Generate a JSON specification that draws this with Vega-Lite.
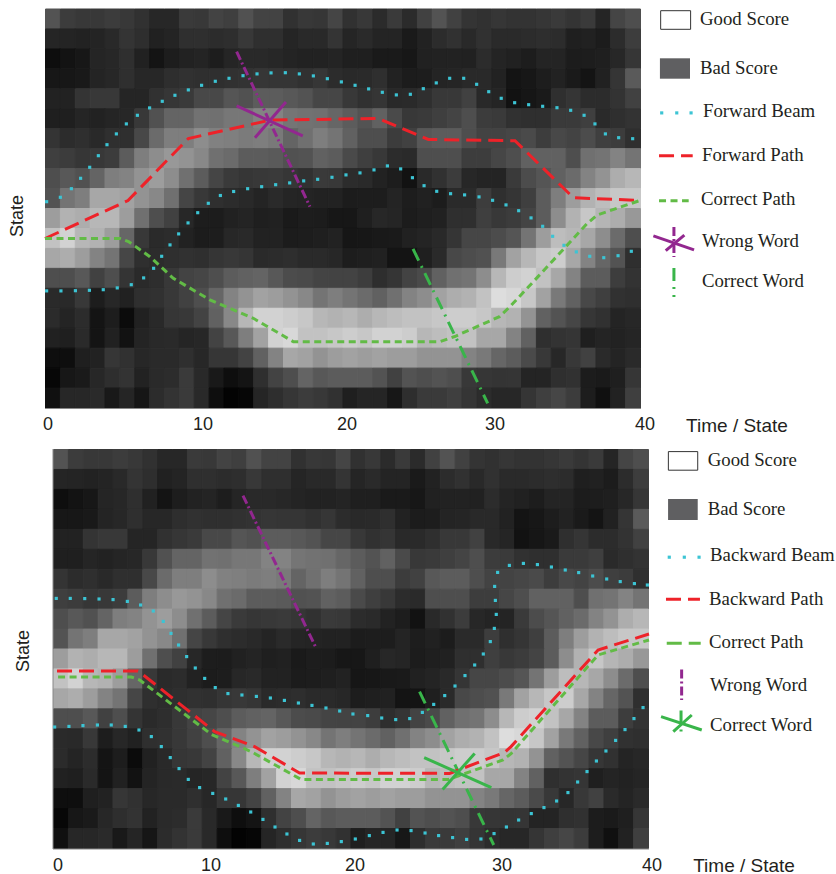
{"$schema":"https://vega.github.io/schema/vega-lite/v6.json","width":836,"height":874,"autosize":{"type":"none"},"padding":0,"background":"white","config":{"view":{"stroke":null}},
"datasets":{"heat":[
{"c":0,"r":0,"v":90},{"c":1,"r":0,"v":65},{"c":2,"r":0,"v":60},{"c":3,"r":0,"v":60},{"c":4,"r":0,"v":65},{"c":5,"r":0,"v":60},{"c":6,"r":0,"v":52},{"c":7,"r":0,"v":40},{"c":8,"r":0,"v":40},{"c":9,"r":0,"v":62},{"c":10,"r":0,"v":60},{"c":11,"r":0,"v":72},{"c":12,"r":0,"v":68},{"c":13,"r":0,"v":88},{"c":14,"r":0,"v":72},{"c":15,"r":0,"v":72},{"c":16,"r":0,"v":52},{"c":17,"r":0,"v":60},{"c":18,"r":0,"v":58},{"c":19,"r":0,"v":75},{"c":20,"r":0,"v":52},{"c":21,"r":0,"v":60},{"c":22,"r":0,"v":45},{"c":23,"r":0,"v":62},{"c":24,"r":0,"v":45},{"c":25,"r":0,"v":70},{"c":26,"r":0,"v":90},{"c":27,"r":0,"v":70},{"c":28,"r":0,"v":55},{"c":29,"r":0,"v":52},{"c":30,"r":0,"v":58},{"c":31,"r":0,"v":54},{"c":32,"r":0,"v":54},{"c":33,"r":0,"v":58},{"c":34,"r":0,"v":62},{"c":35,"r":0,"v":55},{"c":36,"r":0,"v":62},{"c":37,"r":0,"v":38},{"c":38,"r":0,"v":75},{"c":39,"r":0,"v":85},
{"c":0,"r":1,"v":38},{"c":1,"r":1,"v":36},{"c":2,"r":1,"v":34},{"c":3,"r":1,"v":36},{"c":4,"r":1,"v":42},{"c":5,"r":1,"v":55},{"c":6,"r":1,"v":48},{"c":7,"r":1,"v":32},{"c":8,"r":1,"v":36},{"c":9,"r":1,"v":50},{"c":10,"r":1,"v":50},{"c":11,"r":1,"v":46},{"c":12,"r":1,"v":48},{"c":13,"r":1,"v":60},{"c":14,"r":1,"v":50},{"c":15,"r":1,"v":50},{"c":16,"r":1,"v":38},{"c":17,"r":1,"v":42},{"c":18,"r":1,"v":42},{"c":19,"r":1,"v":55},{"c":20,"r":1,"v":38},{"c":21,"r":1,"v":44},{"c":22,"r":1,"v":36},{"c":23,"r":1,"v":36},{"c":24,"r":1,"v":24},{"c":25,"r":1,"v":34},{"c":26,"r":1,"v":46},{"c":27,"r":1,"v":52},{"c":28,"r":1,"v":42},{"c":29,"r":1,"v":52},{"c":30,"r":1,"v":44},{"c":31,"r":1,"v":44},{"c":32,"r":1,"v":46},{"c":33,"r":1,"v":48},{"c":34,"r":1,"v":46},{"c":35,"r":1,"v":30},{"c":36,"r":1,"v":32},{"c":37,"r":1,"v":26},{"c":38,"r":1,"v":46},{"c":39,"r":1,"v":66},
{"c":0,"r":2,"v":10},{"c":1,"r":2,"v":15},{"c":2,"r":2,"v":20},{"c":3,"r":2,"v":38},{"c":4,"r":2,"v":40},{"c":5,"r":2,"v":50},{"c":6,"r":2,"v":32},{"c":7,"r":2,"v":16},{"c":8,"r":2,"v":28},{"c":9,"r":2,"v":34},{"c":10,"r":2,"v":36},{"c":11,"r":2,"v":28},{"c":12,"r":2,"v":38},{"c":13,"r":2,"v":42},{"c":14,"r":2,"v":42},{"c":15,"r":2,"v":40},{"c":16,"r":2,"v":36},{"c":17,"r":2,"v":34},{"c":18,"r":2,"v":34},{"c":19,"r":2,"v":36},{"c":20,"r":2,"v":30},{"c":21,"r":2,"v":30},{"c":22,"r":2,"v":24},{"c":23,"r":2,"v":24},{"c":24,"r":2,"v":20},{"c":25,"r":2,"v":32},{"c":26,"r":2,"v":34},{"c":27,"r":2,"v":34},{"c":28,"r":2,"v":32},{"c":29,"r":2,"v":46},{"c":30,"r":2,"v":36},{"c":31,"r":2,"v":32},{"c":32,"r":2,"v":28},{"c":33,"r":2,"v":36},{"c":34,"r":2,"v":36},{"c":35,"r":2,"v":26},{"c":36,"r":2,"v":28},{"c":37,"r":2,"v":30},{"c":38,"r":2,"v":40},{"c":39,"r":2,"v":58},
{"c":0,"r":3,"v":20},{"c":1,"r":3,"v":20},{"c":2,"r":3,"v":22},{"c":3,"r":3,"v":36},{"c":4,"r":3,"v":40},{"c":5,"r":3,"v":50},{"c":6,"r":3,"v":40},{"c":7,"r":3,"v":40},{"c":8,"r":3,"v":48},{"c":9,"r":3,"v":52},{"c":10,"r":3,"v":50},{"c":11,"r":3,"v":50},{"c":12,"r":3,"v":52},{"c":13,"r":3,"v":54},{"c":14,"r":3,"v":58},{"c":15,"r":3,"v":56},{"c":16,"r":3,"v":56},{"c":17,"r":3,"v":52},{"c":18,"r":3,"v":58},{"c":19,"r":3,"v":46},{"c":20,"r":3,"v":42},{"c":21,"r":3,"v":44},{"c":22,"r":3,"v":50},{"c":23,"r":3,"v":34},{"c":24,"r":3,"v":26},{"c":25,"r":3,"v":28},{"c":26,"r":3,"v":36},{"c":27,"r":3,"v":38},{"c":28,"r":3,"v":42},{"c":29,"r":3,"v":42},{"c":30,"r":3,"v":34},{"c":31,"r":3,"v":16},{"c":32,"r":3,"v":20},{"c":33,"r":3,"v":28},{"c":34,"r":3,"v":34},{"c":35,"r":3,"v":24},{"c":36,"r":3,"v":16},{"c":37,"r":3,"v":32},{"c":38,"r":3,"v":56},{"c":39,"r":3,"v":98},
{"c":0,"r":4,"v":34},{"c":1,"r":4,"v":34},{"c":2,"r":4,"v":55},{"c":3,"r":4,"v":60},{"c":4,"r":4,"v":60},{"c":5,"r":4,"v":38},{"c":6,"r":4,"v":38},{"c":7,"r":4,"v":52},{"c":8,"r":4,"v":58},{"c":9,"r":4,"v":62},{"c":10,"r":4,"v":78},{"c":11,"r":4,"v":78},{"c":12,"r":4,"v":92},{"c":13,"r":4,"v":88},{"c":14,"r":4,"v":100},{"c":15,"r":4,"v":100},{"c":16,"r":4,"v":95},{"c":17,"r":4,"v":90},{"c":18,"r":4,"v":76},{"c":19,"r":4,"v":76},{"c":20,"r":4,"v":60},{"c":21,"r":4,"v":52},{"c":22,"r":4,"v":56},{"c":23,"r":4,"v":42},{"c":24,"r":4,"v":44},{"c":25,"r":4,"v":50},{"c":26,"r":4,"v":60},{"c":27,"r":4,"v":60},{"c":28,"r":4,"v":70},{"c":29,"r":4,"v":42},{"c":30,"r":4,"v":38},{"c":31,"r":4,"v":14},{"c":32,"r":4,"v":18},{"c":33,"r":4,"v":24},{"c":34,"r":4,"v":50},{"c":35,"r":4,"v":56},{"c":36,"r":4,"v":46},{"c":37,"r":4,"v":46},{"c":38,"r":4,"v":54},{"c":39,"r":4,"v":70},
{"c":0,"r":5,"v":30},{"c":1,"r":5,"v":30},{"c":2,"r":5,"v":38},{"c":3,"r":5,"v":34},{"c":4,"r":5,"v":38},{"c":5,"r":5,"v":40},{"c":6,"r":5,"v":60},{"c":7,"r":5,"v":88},{"c":8,"r":5,"v":108},{"c":9,"r":5,"v":108},{"c":10,"r":5,"v":122},{"c":11,"r":5,"v":120},{"c":12,"r":5,"v":128},{"c":13,"r":5,"v":128},{"c":14,"r":5,"v":140},{"c":15,"r":5,"v":140},{"c":16,"r":5,"v":126},{"c":17,"r":5,"v":122},{"c":18,"r":5,"v":120},{"c":19,"r":5,"v":110},{"c":20,"r":5,"v":100},{"c":21,"r":5,"v":90},{"c":22,"r":5,"v":105},{"c":23,"r":5,"v":80},{"c":24,"r":5,"v":60},{"c":25,"r":5,"v":62},{"c":26,"r":5,"v":68},{"c":27,"r":5,"v":74},{"c":28,"r":5,"v":85},{"c":29,"r":5,"v":65},{"c":30,"r":5,"v":62},{"c":31,"r":5,"v":52},{"c":32,"r":5,"v":50},{"c":33,"r":5,"v":50},{"c":34,"r":5,"v":62},{"c":35,"r":5,"v":62},{"c":36,"r":5,"v":68},{"c":37,"r":5,"v":44},{"c":38,"r":5,"v":50},{"c":39,"r":5,"v":54},
{"c":0,"r":6,"v":55},{"c":1,"r":6,"v":46},{"c":2,"r":6,"v":50},{"c":3,"r":6,"v":42},{"c":4,"r":6,"v":50},{"c":5,"r":6,"v":50},{"c":6,"r":6,"v":78},{"c":7,"r":6,"v":115},{"c":8,"r":6,"v":135},{"c":9,"r":6,"v":135},{"c":10,"r":6,"v":150},{"c":11,"r":6,"v":138},{"c":12,"r":6,"v":136},{"c":13,"r":6,"v":132},{"c":14,"r":6,"v":135},{"c":15,"r":6,"v":130},{"c":16,"r":6,"v":108},{"c":17,"r":6,"v":120},{"c":18,"r":6,"v":135},{"c":19,"r":6,"v":125},{"c":20,"r":6,"v":105},{"c":21,"r":6,"v":85},{"c":22,"r":6,"v":85},{"c":23,"r":6,"v":65},{"c":24,"r":6,"v":70},{"c":25,"r":6,"v":95},{"c":26,"r":6,"v":100},{"c":27,"r":6,"v":100},{"c":28,"r":6,"v":85},{"c":29,"r":6,"v":72},{"c":30,"r":6,"v":72},{"c":31,"r":6,"v":76},{"c":32,"r":6,"v":80},{"c":33,"r":6,"v":66},{"c":34,"r":6,"v":78},{"c":35,"r":6,"v":72},{"c":36,"r":6,"v":82},{"c":37,"r":6,"v":68},{"c":38,"r":6,"v":64},{"c":39,"r":6,"v":50},
{"c":0,"r":7,"v":68},{"c":1,"r":7,"v":65},{"c":2,"r":7,"v":58},{"c":3,"r":7,"v":60},{"c":4,"r":7,"v":65},{"c":5,"r":7,"v":100},{"c":6,"r":7,"v":135},{"c":7,"r":7,"v":150},{"c":8,"r":7,"v":160},{"c":9,"r":7,"v":155},{"c":10,"r":7,"v":145},{"c":11,"r":7,"v":120},{"c":12,"r":7,"v":115},{"c":13,"r":7,"v":100},{"c":14,"r":7,"v":100},{"c":15,"r":7,"v":98},{"c":16,"r":7,"v":88},{"c":17,"r":7,"v":90},{"c":18,"r":7,"v":105},{"c":19,"r":7,"v":100},{"c":20,"r":7,"v":80},{"c":21,"r":7,"v":68},{"c":22,"r":7,"v":60},{"c":23,"r":7,"v":46},{"c":24,"r":7,"v":44},{"c":25,"r":7,"v":85},{"c":26,"r":7,"v":85},{"c":27,"r":7,"v":85},{"c":28,"r":7,"v":66},{"c":29,"r":7,"v":66},{"c":30,"r":7,"v":76},{"c":31,"r":7,"v":85},{"c":32,"r":7,"v":105},{"c":33,"r":7,"v":105},{"c":34,"r":7,"v":105},{"c":35,"r":7,"v":85},{"c":36,"r":7,"v":120},{"c":37,"r":7,"v":125},{"c":38,"r":7,"v":140},{"c":39,"r":7,"v":125},
{"c":0,"r":8,"v":85},{"c":1,"r":8,"v":95},{"c":2,"r":8,"v":88},{"c":3,"r":8,"v":108},{"c":4,"r":8,"v":135},{"c":5,"r":8,"v":140},{"c":6,"r":8,"v":155},{"c":7,"r":8,"v":165},{"c":8,"r":8,"v":150},{"c":9,"r":8,"v":120},{"c":10,"r":8,"v":100},{"c":11,"r":8,"v":75},{"c":12,"r":8,"v":62},{"c":13,"r":8,"v":58},{"c":14,"r":8,"v":60},{"c":15,"r":8,"v":62},{"c":16,"r":8,"v":58},{"c":17,"r":8,"v":52},{"c":18,"r":8,"v":62},{"c":19,"r":8,"v":60},{"c":20,"r":8,"v":46},{"c":21,"r":8,"v":44},{"c":22,"r":8,"v":34},{"c":23,"r":8,"v":28},{"c":24,"r":8,"v":14},{"c":25,"r":8,"v":42},{"c":26,"r":8,"v":52},{"c":27,"r":8,"v":64},{"c":28,"r":8,"v":40},{"c":29,"r":8,"v":36},{"c":30,"r":8,"v":36},{"c":31,"r":8,"v":62},{"c":32,"r":8,"v":82},{"c":33,"r":8,"v":92},{"c":34,"r":8,"v":105},{"c":35,"r":8,"v":115},{"c":36,"r":8,"v":140},{"c":37,"r":8,"v":155},{"c":38,"r":8,"v":180},{"c":39,"r":8,"v":190},
{"c":0,"r":9,"v":90},{"c":1,"r":9,"v":125},{"c":2,"r":9,"v":135},{"c":3,"r":9,"v":175},{"c":4,"r":9,"v":175},{"c":5,"r":9,"v":170},{"c":6,"r":9,"v":155},{"c":7,"r":9,"v":145},{"c":8,"r":9,"v":120},{"c":9,"r":9,"v":75},{"c":10,"r":9,"v":60},{"c":11,"r":9,"v":50},{"c":12,"r":9,"v":46},{"c":13,"r":9,"v":42},{"c":14,"r":9,"v":36},{"c":15,"r":9,"v":44},{"c":16,"r":9,"v":38},{"c":17,"r":9,"v":36},{"c":18,"r":9,"v":34},{"c":19,"r":9,"v":34},{"c":20,"r":9,"v":26},{"c":21,"r":9,"v":28},{"c":22,"r":9,"v":28},{"c":23,"r":9,"v":36},{"c":24,"r":9,"v":28},{"c":25,"r":9,"v":32},{"c":26,"r":9,"v":26},{"c":27,"r":9,"v":44},{"c":28,"r":9,"v":44},{"c":29,"r":9,"v":66},{"c":30,"r":9,"v":50},{"c":31,"r":9,"v":56},{"c":32,"r":9,"v":68},{"c":33,"r":9,"v":100},{"c":34,"r":9,"v":135},{"c":35,"r":9,"v":165},{"c":36,"r":9,"v":185},{"c":37,"r":9,"v":195},{"c":38,"r":9,"v":205},{"c":39,"r":9,"v":205},
{"c":0,"r":10,"v":165},{"c":1,"r":10,"v":185},{"c":2,"r":10,"v":180},{"c":3,"r":10,"v":190},{"c":4,"r":10,"v":190},{"c":5,"r":10,"v":165},{"c":6,"r":10,"v":120},{"c":7,"r":10,"v":85},{"c":8,"r":10,"v":70},{"c":9,"r":10,"v":40},{"c":10,"r":10,"v":28},{"c":11,"r":10,"v":26},{"c":12,"r":10,"v":32},{"c":13,"r":10,"v":36},{"c":14,"r":10,"v":30},{"c":15,"r":10,"v":32},{"c":16,"r":10,"v":24},{"c":17,"r":10,"v":28},{"c":18,"r":10,"v":26},{"c":19,"r":10,"v":20},{"c":20,"r":10,"v":20},{"c":21,"r":10,"v":30},{"c":22,"r":10,"v":40},{"c":23,"r":10,"v":38},{"c":24,"r":10,"v":26},{"c":25,"r":10,"v":30},{"c":26,"r":10,"v":32},{"c":27,"r":10,"v":50},{"c":28,"r":10,"v":50},{"c":29,"r":10,"v":68},{"c":30,"r":10,"v":60},{"c":31,"r":10,"v":64},{"c":32,"r":10,"v":74},{"c":33,"r":10,"v":100},{"c":34,"r":10,"v":150},{"c":35,"r":10,"v":185},{"c":36,"r":10,"v":205},{"c":37,"r":10,"v":188},{"c":38,"r":10,"v":180},{"c":39,"r":10,"v":160},
{"c":0,"r":11,"v":200},{"c":1,"r":11,"v":215},{"c":2,"r":11,"v":190},{"c":3,"r":11,"v":185},{"c":4,"r":11,"v":165},{"c":5,"r":11,"v":110},{"c":6,"r":11,"v":60},{"c":7,"r":11,"v":44},{"c":8,"r":11,"v":46},{"c":9,"r":11,"v":34},{"c":10,"r":11,"v":26},{"c":11,"r":11,"v":28},{"c":12,"r":11,"v":40},{"c":13,"r":11,"v":42},{"c":14,"r":11,"v":34},{"c":15,"r":11,"v":34},{"c":16,"r":11,"v":26},{"c":17,"r":11,"v":28},{"c":18,"r":11,"v":30},{"c":19,"r":11,"v":34},{"c":20,"r":11,"v":18},{"c":21,"r":11,"v":20},{"c":22,"r":11,"v":22},{"c":23,"r":11,"v":24},{"c":24,"r":11,"v":32},{"c":25,"r":11,"v":36},{"c":26,"r":11,"v":42},{"c":27,"r":11,"v":56},{"c":28,"r":11,"v":76},{"c":29,"r":11,"v":76},{"c":30,"r":11,"v":82},{"c":31,"r":11,"v":92},{"c":32,"r":11,"v":125},{"c":33,"r":11,"v":165},{"c":34,"r":11,"v":195},{"c":35,"r":11,"v":190},{"c":36,"r":11,"v":175},{"c":37,"r":11,"v":150},{"c":38,"r":11,"v":115},{"c":39,"r":11,"v":85},
{"c":0,"r":12,"v":175},{"c":1,"r":12,"v":180},{"c":2,"r":12,"v":165},{"c":3,"r":12,"v":140},{"c":4,"r":12,"v":125},{"c":5,"r":12,"v":76},{"c":6,"r":12,"v":50},{"c":7,"r":12,"v":46},{"c":8,"r":12,"v":50},{"c":9,"r":12,"v":52},{"c":10,"r":12,"v":50},{"c":11,"r":12,"v":56},{"c":12,"r":12,"v":60},{"c":13,"r":12,"v":56},{"c":14,"r":12,"v":44},{"c":15,"r":12,"v":46},{"c":16,"r":12,"v":48},{"c":17,"r":12,"v":44},{"c":18,"r":12,"v":44},{"c":19,"r":12,"v":40},{"c":20,"r":12,"v":28},{"c":21,"r":12,"v":30},{"c":22,"r":12,"v":32},{"c":23,"r":12,"v":16},{"c":24,"r":12,"v":16},{"c":25,"r":12,"v":30},{"c":26,"r":12,"v":44},{"c":27,"r":12,"v":78},{"c":28,"r":12,"v":84},{"c":29,"r":12,"v":88},{"c":30,"r":12,"v":130},{"c":31,"r":12,"v":170},{"c":32,"r":12,"v":190},{"c":33,"r":12,"v":205},{"c":34,"r":12,"v":210},{"c":35,"r":12,"v":175},{"c":36,"r":12,"v":140},{"c":37,"r":12,"v":110},{"c":38,"r":12,"v":90},{"c":39,"r":12,"v":50},
{"c":0,"r":13,"v":85},{"c":1,"r":13,"v":85},{"c":2,"r":13,"v":95},{"c":3,"r":13,"v":70},{"c":4,"r":13,"v":85},{"c":5,"r":13,"v":55},{"c":6,"r":13,"v":44},{"c":7,"r":13,"v":48},{"c":8,"r":13,"v":60},{"c":9,"r":13,"v":72},{"c":10,"r":13,"v":76},{"c":11,"r":13,"v":85},{"c":12,"r":13,"v":100},{"c":13,"r":13,"v":105},{"c":14,"r":13,"v":108},{"c":15,"r":13,"v":95},{"c":16,"r":13,"v":82},{"c":17,"r":13,"v":80},{"c":18,"r":13,"v":74},{"c":19,"r":13,"v":72},{"c":20,"r":13,"v":72},{"c":21,"r":13,"v":66},{"c":22,"r":13,"v":48},{"c":23,"r":13,"v":56},{"c":24,"r":13,"v":72},{"c":25,"r":13,"v":80},{"c":26,"r":13,"v":105},{"c":27,"r":13,"v":120},{"c":28,"r":13,"v":125},{"c":29,"r":13,"v":150},{"c":30,"r":13,"v":190},{"c":31,"r":13,"v":210},{"c":32,"r":13,"v":215},{"c":33,"r":13,"v":200},{"c":34,"r":13,"v":175},{"c":35,"r":13,"v":140},{"c":36,"r":13,"v":100},{"c":37,"r":13,"v":100},{"c":38,"r":13,"v":66},{"c":39,"r":13,"v":54},
{"c":0,"r":14,"v":44},{"c":1,"r":14,"v":42},{"c":2,"r":14,"v":60},{"c":3,"r":14,"v":28},{"c":4,"r":14,"v":40},{"c":5,"r":14,"v":32},{"c":6,"r":14,"v":50},{"c":7,"r":14,"v":52},{"c":8,"r":14,"v":60},{"c":9,"r":14,"v":70},{"c":10,"r":14,"v":85},{"c":11,"r":14,"v":110},{"c":12,"r":14,"v":140},{"c":13,"r":14,"v":155},{"c":14,"r":14,"v":170},{"c":15,"r":14,"v":165},{"c":16,"r":14,"v":155},{"c":17,"r":14,"v":145},{"c":18,"r":14,"v":125},{"c":19,"r":14,"v":135},{"c":20,"r":14,"v":125},{"c":21,"r":14,"v":115},{"c":22,"r":14,"v":105},{"c":23,"r":14,"v":120},{"c":24,"r":14,"v":140},{"c":25,"r":14,"v":150},{"c":26,"r":14,"v":170},{"c":27,"r":14,"v":180},{"c":28,"r":14,"v":185},{"c":29,"r":14,"v":200},{"c":30,"r":14,"v":225},{"c":31,"r":14,"v":220},{"c":32,"r":14,"v":205},{"c":33,"r":14,"v":170},{"c":34,"r":14,"v":130},{"c":35,"r":14,"v":105},{"c":36,"r":14,"v":78},{"c":37,"r":14,"v":68},{"c":38,"r":14,"v":52},{"c":39,"r":14,"v":50},
{"c":0,"r":15,"v":45},{"c":1,"r":15,"v":36},{"c":2,"r":15,"v":46},{"c":3,"r":15,"v":16},{"c":4,"r":15,"v":28},{"c":5,"r":15,"v":8},{"c":6,"r":15,"v":32},{"c":7,"r":15,"v":42},{"c":8,"r":15,"v":58},{"c":9,"r":15,"v":60},{"c":10,"r":15,"v":72},{"c":11,"r":15,"v":105},{"c":12,"r":15,"v":145},{"c":13,"r":15,"v":190},{"c":14,"r":15,"v":215},{"c":15,"r":15,"v":215},{"c":16,"r":15,"v":210},{"c":17,"r":15,"v":205},{"c":18,"r":15,"v":190},{"c":19,"r":15,"v":185},{"c":20,"r":15,"v":190},{"c":21,"r":15,"v":180},{"c":22,"r":15,"v":190},{"c":23,"r":15,"v":195},{"c":24,"r":15,"v":200},{"c":25,"r":15,"v":200},{"c":26,"r":15,"v":205},{"c":27,"r":15,"v":210},{"c":28,"r":15,"v":210},{"c":29,"r":15,"v":205},{"c":30,"r":15,"v":190},{"c":31,"r":15,"v":185},{"c":32,"r":15,"v":155},{"c":33,"r":15,"v":105},{"c":34,"r":15,"v":90},{"c":35,"r":15,"v":76},{"c":36,"r":15,"v":58},{"c":37,"r":15,"v":52},{"c":38,"r":15,"v":36},{"c":39,"r":15,"v":40},
{"c":0,"r":16,"v":32},{"c":1,"r":16,"v":30},{"c":2,"r":16,"v":44},{"c":3,"r":16,"v":16},{"c":4,"r":16,"v":32},{"c":5,"r":16,"v":14},{"c":6,"r":16,"v":36},{"c":7,"r":16,"v":42},{"c":8,"r":16,"v":44},{"c":9,"r":16,"v":38},{"c":10,"r":16,"v":40},{"c":11,"r":16,"v":72},{"c":12,"r":16,"v":95},{"c":13,"r":16,"v":135},{"c":14,"r":16,"v":170},{"c":15,"r":16,"v":215},{"c":16,"r":16,"v":220},{"c":17,"r":16,"v":200},{"c":18,"r":16,"v":200},{"c":19,"r":16,"v":205},{"c":20,"r":16,"v":210},{"c":21,"r":16,"v":205},{"c":22,"r":16,"v":215},{"c":23,"r":16,"v":215},{"c":24,"r":16,"v":210},{"c":25,"r":16,"v":190},{"c":26,"r":16,"v":195},{"c":27,"r":16,"v":200},{"c":28,"r":16,"v":200},{"c":29,"r":16,"v":175},{"c":30,"r":16,"v":175},{"c":31,"r":16,"v":140},{"c":32,"r":16,"v":105},{"c":33,"r":16,"v":50},{"c":34,"r":16,"v":54},{"c":35,"r":16,"v":56},{"c":36,"r":16,"v":30},{"c":37,"r":16,"v":36},{"c":38,"r":16,"v":34},{"c":39,"r":16,"v":38},
{"c":0,"r":17,"v":10},{"c":1,"r":17,"v":10},{"c":2,"r":17,"v":30},{"c":3,"r":17,"v":34},{"c":4,"r":17,"v":58},{"c":5,"r":17,"v":52},{"c":6,"r":17,"v":40},{"c":7,"r":17,"v":44},{"c":8,"r":17,"v":44},{"c":9,"r":17,"v":50},{"c":10,"r":17,"v":40},{"c":11,"r":17,"v":58},{"c":12,"r":17,"v":58},{"c":13,"r":17,"v":72},{"c":14,"r":17,"v":105},{"c":15,"r":17,"v":140},{"c":16,"r":17,"v":175},{"c":17,"r":17,"v":170},{"c":18,"r":17,"v":155},{"c":19,"r":17,"v":165},{"c":20,"r":17,"v":170},{"c":21,"r":17,"v":165},{"c":22,"r":17,"v":170},{"c":23,"r":17,"v":165},{"c":24,"r":17,"v":165},{"c":25,"r":17,"v":155},{"c":26,"r":17,"v":155},{"c":27,"r":17,"v":155},{"c":28,"r":17,"v":140},{"c":29,"r":17,"v":130},{"c":30,"r":17,"v":110},{"c":31,"r":17,"v":100},{"c":32,"r":17,"v":80},{"c":33,"r":17,"v":60},{"c":34,"r":17,"v":40},{"c":35,"r":17,"v":60},{"c":36,"r":17,"v":70},{"c":37,"r":17,"v":44},{"c":38,"r":17,"v":36},{"c":39,"r":17,"v":44},
{"c":0,"r":18,"v":5},{"c":1,"r":18,"v":20},{"c":2,"r":18,"v":24},{"c":3,"r":18,"v":40},{"c":4,"r":18,"v":48},{"c":5,"r":18,"v":54},{"c":6,"r":18,"v":34},{"c":7,"r":18,"v":44},{"c":8,"r":18,"v":46},{"c":9,"r":18,"v":62},{"c":10,"r":18,"v":42},{"c":11,"r":18,"v":22},{"c":12,"r":18,"v":10},{"c":13,"r":18,"v":16},{"c":14,"r":18,"v":50},{"c":15,"r":18,"v":72},{"c":16,"r":18,"v":85},{"c":17,"r":18,"v":108},{"c":18,"r":18,"v":95},{"c":19,"r":18,"v":100},{"c":20,"r":18,"v":100},{"c":21,"r":18,"v":100},{"c":22,"r":18,"v":90},{"c":23,"r":18,"v":70},{"c":24,"r":18,"v":90},{"c":25,"r":18,"v":85},{"c":26,"r":18,"v":90},{"c":27,"r":18,"v":85},{"c":28,"r":18,"v":60},{"c":29,"r":18,"v":58},{"c":30,"r":18,"v":55},{"c":31,"r":18,"v":56},{"c":32,"r":18,"v":36},{"c":33,"r":18,"v":36},{"c":34,"r":18,"v":50},{"c":35,"r":18,"v":52},{"c":36,"r":18,"v":26},{"c":37,"r":18,"v":24},{"c":38,"r":18,"v":30},{"c":39,"r":18,"v":58},
{"c":0,"r":19,"v":12},{"c":1,"r":19,"v":40},{"c":2,"r":19,"v":40},{"c":3,"r":19,"v":44},{"c":4,"r":19,"v":22},{"c":5,"r":19,"v":38},{"c":6,"r":19,"v":18},{"c":7,"r":19,"v":46},{"c":8,"r":19,"v":54},{"c":9,"r":19,"v":62},{"c":10,"r":19,"v":42},{"c":11,"r":19,"v":10},{"c":12,"r":19,"v":2},{"c":13,"r":19,"v":4},{"c":14,"r":19,"v":38},{"c":15,"r":19,"v":48},{"c":16,"r":19,"v":58},{"c":17,"r":19,"v":64},{"c":18,"r":19,"v":60},{"c":19,"r":19,"v":52},{"c":20,"r":19,"v":30},{"c":21,"r":19,"v":38},{"c":22,"r":19,"v":38},{"c":23,"r":19,"v":20},{"c":24,"r":19,"v":48},{"c":25,"r":19,"v":62},{"c":26,"r":19,"v":62},{"c":27,"r":19,"v":68},{"c":28,"r":19,"v":56},{"c":29,"r":19,"v":46},{"c":30,"r":19,"v":40},{"c":31,"r":19,"v":40},{"c":32,"r":19,"v":56},{"c":33,"r":19,"v":68},{"c":34,"r":19,"v":76},{"c":35,"r":19,"v":64},{"c":36,"r":19,"v":28},{"c":37,"r":19,"v":12},{"c":38,"r":19,"v":34},{"c":39,"r":19,"v":68}
],
"tBeam":[{"x":0.11,"y":10.34},{"x":1.03,"y":10.56},{"x":1.77,"y":10.99},{"x":2.39,"y":11.51},{"x":3,"y":12.06},{"x":3.58,"y":12.64},{"x":4.16,"y":13.19},{"x":4.79,"y":13.73},{"x":5.46,"y":14.23},{"x":6.2,"y":14.66},{"x":7.02,"y":15.03},{"x":7.87,"y":15.36},{"x":8.72,"y":15.66},{"x":9.62,"y":15.93},{"x":10.51,"y":16.16},{"x":11.43,"y":16.36},{"x":12.35,"y":16.51},{"x":13.29,"y":16.64},{"x":14.23,"y":16.73},{"x":15.17,"y":16.78},{"x":16.13,"y":16.79},{"x":17.07,"y":16.73},{"x":18.01,"y":16.63},{"x":18.95,"y":16.49},{"x":19.89,"y":16.33},{"x":20.81,"y":16.16},{"x":21.72,"y":15.98},{"x":22.64,"y":15.81},{"x":23.58,"y":15.68},{"x":24.52,"y":15.71},{"x":25.39,"y":15.99},{"x":26.26,"y":16.28},{"x":27.16,"y":16.51},{"x":28.1,"y":16.51},{"x":28.97,"y":16.21},{"x":29.78,"y":15.84},{"x":30.62,"y":15.51},{"x":31.52,"y":15.29},{"x":32.46,"y":15.19},{"x":33.4,"y":15.11},{"x":34.36,"y":15.04},{"x":35.28,"y":14.91},{"x":36.18,"y":14.66},{"x":36.91,"y":14.23},{"x":37.61,"y":13.73},{"x":38.5,"y":13.54},{"x":39.44,"y":13.49},
{"x":0.11,"y":5.88},{"x":1.07,"y":5.88},{"x":2.04,"y":5.89},{"x":2.98,"y":5.91},{"x":3.91,"y":5.94},{"x":4.85,"y":6.03},{"x":5.79,"y":6.19},{"x":6.62,"y":6.53},{"x":7.29,"y":7.01},{"x":7.83,"y":7.61},{"x":8.39,"y":8.18},{"x":8.97,"y":8.73},{"x":9.6,"y":9.28},{"x":10.25,"y":9.79},{"x":10.96,"y":10.26},{"x":11.77,"y":10.65},{"x":12.66,"y":10.85},{"x":13.6,"y":10.99},{"x":14.54,"y":11.09},{"x":15.48,"y":11.19},{"x":16.42,"y":11.28},{"x":17.36,"y":11.38},{"x":18.3,"y":11.46},{"x":19.26,"y":11.56},{"x":20.2,"y":11.68},{"x":21.14,"y":11.78},{"x":22.08,"y":11.93},{"x":22.98,"y":12.13},{"x":23.87,"y":11.98},{"x":24.66,"y":11.54},{"x":25.44,"y":11.14},{"x":26.29,"y":10.86},{"x":27.22,"y":10.74},{"x":28.16,"y":10.68},{"x":29.13,"y":10.58},{"x":30.04,"y":10.41},{"x":30.94,"y":10.18},{"x":31.79,"y":9.89},{"x":32.62,"y":9.53},{"x":33.4,"y":9.11},{"x":34.07,"y":8.61},{"x":34.83,"y":8.16},{"x":35.66,"y":7.83},{"x":36.56,"y":7.61},{"x":37.5,"y":7.54},{"x":38.46,"y":7.64},{"x":39.35,"y":7.86},
{"x":41.39,"y":14.78},{"x":42.4,"y":14.78},{"x":43.36,"y":14.78}],
"tPath":[{"k":"m","x":0,"y":8.5},{"k":"m","x":5.57,"y":10.4},{"k":"m","x":9.62,"y":13.5},{"k":"m","x":15.1,"y":14.42},{"k":"m","x":22.37,"y":14.5},{"k":"m","x":25.73,"y":13.45},{"k":"m","x":31.54,"y":13.39},{"k":"m","x":35.46,"y":10.54},{"k":"m","x":39.93,"y":10.4},{"k":"l","x":41.21,"y":12.64},{"k":"l","x":43.47,"y":12.64}],
"tCorrect":[{"k":"m","x":0,"y":8.5},{"k":"m","x":5.03,"y":8.5},{"k":"m","x":5.6,"y":8.35},{"k":"m","x":7.04,"y":7.59},{"k":"m","x":8.61,"y":6.51},{"k":"m","x":11.07,"y":5.43},{"k":"m","x":13.98,"y":4.51},{"k":"m","x":16.67,"y":3.34},{"k":"m","x":26.5,"y":3.34},{"k":"m","x":27.5,"y":3.6},{"k":"m","x":30.5,"y":4.59},{"k":"m","x":31.2,"y":5.09},{"k":"m","x":33.2,"y":6.68},{"k":"m","x":36.4,"y":9.26},{"k":"m","x":37.07,"y":9.68},{"k":"m","x":39.93,"y":10.4},{"k":"l","x":41.21,"y":10.39},{"k":"l","x":43.2,"y":10.39}],
"tWrong":[{"k":"m","x":12.86,"y":17.84},{"k":"m","x":17.78,"y":10.09},{"k":"l","x":42.21,"y":9.08},{"k":"l","x":42.21,"y":7.58}],
"tRight":[{"k":"m","x":24.7,"y":7.98},{"k":"m","x":29.71,"y":0.26},{"k":"l","x":42.21,"y":7.03},{"k":"l","x":42.21,"y":5.58}],
"tCross":[{"k":"a","x":12.86,"y":15.13},{"k":"a","x":17.3,"y":13.63},{"k":"b","x":16.17,"y":15.33},{"k":"b","x":14.09,"y":13.54},{"k":"c","x":40.83,"y":8.63},{"k":"c","x":43.56,"y":7.93},{"k":"d","x":42.91,"y":8.67},{"k":"d","x":41.66,"y":7.89}],
"tFrame":[{"x":0,"y":0},{"x":40,"y":0}],
"tGood":[{"x":41.32,"x2":43.33,"y":19.89,"y2":18.96}],
"tBad":[{"x":41.27,"x2":43.29,"y":17.51,"y2":16.49}],
"tLegend":[{"x":43.96,"y":19.47,"t":"Good Score"},{"x":43.96,"y":17.03,"t":"Bad Score"},{"x":44.16,"y":14.87,"t":"Forward Beam"},{"x":44.09,"y":12.68,"t":"Forward Path"},{"x":44.03,"y":10.48,"t":"Correct Path"},{"x":44.09,"y":8.38,"t":"Wrong Word"},{"x":44.09,"y":6.38,"t":"Correct Word"}],
"tAxis":[{"x":0.2,"y":-0.83,"t":"0"},{"x":10.6,"y":-0.83,"t":"10"},{"x":20.27,"y":-0.83,"t":"20"},{"x":30.2,"y":-0.83,"t":"30"},{"x":40.27,"y":-0.83,"t":"40"}],
"tTime":[{"x":46.44,"y":-0.88,"t":"Time / State"}],
"tState":[{"x":-1.81,"y":9.63,"t":"State"}],
"bBeam":[{"x":0.22,"y":12.53},{"x":1.16,"y":12.53},{"x":2.13,"y":12.52},{"x":3.09,"y":12.5},{"x":4.03,"y":12.47},{"x":4.99,"y":12.38},{"x":5.88,"y":12.2},{"x":6.73,"y":11.9},{"x":7.4,"y":11.38},{"x":7.92,"y":10.78},{"x":8.43,"y":10.2},{"x":8.97,"y":9.62},{"x":9.55,"y":9.05},{"x":10.18,"y":8.53},{"x":10.89,"y":8.07},{"x":11.74,"y":7.77},{"x":12.68,"y":7.7},{"x":13.65,"y":7.63},{"x":14.59,"y":7.55},{"x":15.53,"y":7.43},{"x":16.47,"y":7.3},{"x":17.38,"y":7.18},{"x":18.32,"y":7.05},{"x":19.24,"y":6.9},{"x":20.13,"y":6.75},{"x":21.12,"y":6.67},{"x":22.06,"y":6.55},{"x":23,"y":6.47},{"x":23.94,"y":6.52},{"x":24.79,"y":6.83},{"x":25.55,"y":7.23},{"x":26.29,"y":7.67},{"x":26.98,"y":8.15},{"x":27.65,"y":8.67},{"x":28.3,"y":9.2},{"x":28.88,"y":9.75},{"x":29.35,"y":10.37},{"x":29.62,"y":11.03},{"x":29.75,"y":11.73},{"x":29.69,"y":12.43},{"x":29.64,"y":13.13},{"x":29.84,"y":13.83},{"x":30.63,"y":14.18},{"x":31.57,"y":14.28},{"x":32.51,"y":14.22},{"x":33.45,"y":14.1},{"x":34.38,"y":13.95},{"x":35.28,"y":13.82},{"x":36.22,"y":13.65},{"x":37.16,"y":13.5},{"x":38.07,"y":13.37},{"x":39.02,"y":13.27},{"x":39.89,"y":13.2},
{"x":0.11,"y":6.1},{"x":1.07,"y":6.13},{"x":2.01,"y":6.17},{"x":2.98,"y":6.2},{"x":3.91,"y":6.2},{"x":4.85,"y":6.13},{"x":5.77,"y":5.95},{"x":6.6,"y":5.62},{"x":7.27,"y":5.12},{"x":7.87,"y":4.57},{"x":8.46,"y":4.02},{"x":9.08,"y":3.48},{"x":9.84,"y":3.07},{"x":10.72,"y":2.78},{"x":11.59,"y":2.5},{"x":12.44,"y":2.18},{"x":13.27,"y":1.85},{"x":14.09,"y":1.48},{"x":14.9,"y":1.1},{"x":15.7,"y":0.75},{"x":16.55,"y":0.43},{"x":17.47,"y":0.25},{"x":18.41,"y":0.28},{"x":19.35,"y":0.37},{"x":20.29,"y":0.5},{"x":21.23,"y":0.67},{"x":22.15,"y":0.83},{"x":23.09,"y":0.95},{"x":24.03,"y":0.92},{"x":24.97,"y":0.8},{"x":25.88,"y":0.67},{"x":26.82,"y":0.57},{"x":27.76,"y":0.48},{"x":28.72,"y":0.5},{"x":29.6,"y":0.77},{"x":30.43,"y":1.1},{"x":31.25,"y":1.45},{"x":32.1,"y":1.77},{"x":32.95,"y":2.07},{"x":33.8,"y":2.4},{"x":34.56,"y":2.82},{"x":35.21,"y":3.35},{"x":35.84,"y":3.87},{"x":36.47,"y":4.4},{"x":37.11,"y":4.9},{"x":37.76,"y":5.43},{"x":38.39,"y":5.97},{"x":38.99,"y":6.52},{"x":39.6,"y":7.07},
{"x":41.36,"y":14.59},{"x":42.37,"y":14.59},{"x":43.36,"y":14.59}],
"bPath":[{"k":"m","x":0.27,"y":8.9},{"k":"m","x":5.7,"y":8.9},{"k":"m","x":5.93,"y":8.78},{"k":"m","x":10.85,"y":5.87},{"k":"m","x":13.53,"y":5.12},{"k":"m","x":16.55,"y":3.8},{"k":"m","x":26.62,"y":3.78},{"k":"m","x":30.3,"y":4.83},{"k":"m","x":30.74,"y":5.12},{"k":"m","x":36.58,"y":9.95},{"k":"m","x":40,"y":10.75},{"k":"l","x":41.14,"y":12.49},{"k":"l","x":43.42,"y":12.49}],
"bCorrect":[{"k":"m","x":0.34,"y":8.6},{"k":"m","x":5.26,"y":8.6},{"k":"m","x":5.82,"y":8.45},{"k":"m","x":10.63,"y":5.73},{"k":"m","x":13.3,"y":4.87},{"k":"m","x":16.67,"y":3.47},{"k":"m","x":26.51,"y":3.47},{"k":"m","x":30.2,"y":4.45},{"k":"m","x":30.76,"y":4.78},{"k":"m","x":36.58,"y":9.7},{"k":"m","x":40,"y":10.45}],
"bCorrectL":[{"x":41.19,"y":10.29},{"x":43.47,"y":10.29}],
"bWrong":[{"k":"m","x":12.75,"y":17.67},{"k":"m","x":17.67,"y":10.03},{"k":"l","x":42.19,"y":8.98},{"k":"l","x":42.19,"y":7.45}],
"bRight":[{"k":"m","x":24.6,"y":7.87},{"k":"m","x":29.58,"y":0.2},{"k":"l","x":42.15,"y":6.92},{"k":"l","x":42.15,"y":5.57}],
"bCross":[{"k":"a","x":24.91,"y":4.57},{"k":"a","x":29.42,"y":3.07},{"k":"b","x":28.3,"y":4.78},{"k":"b","x":26.15,"y":2.97},{"k":"c","x":40.81,"y":6.62},{"k":"c","x":43.54,"y":5.95},{"k":"d","x":42.87,"y":6.7},{"k":"d","x":41.63,"y":5.87}],
"bFrame":[{"x":0,"y":20},{"x":0,"y":0},{"x":40,"y":0}],
"bGood":[{"x":41.3,"x2":43.27,"y":19.87,"y2":18.94}],
"bBad":[{"x":41.28,"x2":43.27,"y":17.5,"y2":16.45}],
"bLegend":[{"x":43.94,"y":19.45,"t":"Good Score"},{"x":43.94,"y":17,"t":"Bad Score"},{"x":44.1,"y":14.7,"t":"Backward Beam"},{"x":44.03,"y":12.5,"t":"Backward Path"},{"x":44.03,"y":10.35,"t":"Correct Path"},{"x":44.1,"y":8.2,"t":"Wrong Word"},{"x":44.1,"y":6.2,"t":"Correct Word"}],
"bAxis":[{"x":0.34,"y":-0.85,"t":"0"},{"x":10.6,"y":-0.85,"t":"10"},{"x":20.27,"y":-0.85,"t":"20"},{"x":30.13,"y":-0.85,"t":"30"},{"x":40.2,"y":-0.85,"t":"40"}],
"bTime":[{"x":46.38,"y":-0.85,"t":"Time / State"}],
"bState":[{"x":-1.95,"y":9.9,"t":"State"}]
},
"layer":[
{"data":{"name":"heat"},"mark":{"type":"rect","strokeWidth":1,"strokeOpacity":1,"opacity":1},"encoding":{"x":{"field":"c","type":"ordinal","axis":null,"scale":{"range":[45.5,640.5]}},"y":{"field":"r","type":"ordinal","axis":null,"scale":{"range":[9,408]}},"color":{"field":"v","type":"quantitative","legend":null,"scale":{"domain":[0,255],"range":["#000000","#ffffff"]}},"stroke":{"field":"v","type":"quantitative","legend":null,"scale":{"domain":[0,255],"range":["#000000","#ffffff"]}}}},
{"data":{"name":"heat"},"mark":{"type":"rect","strokeWidth":1,"strokeOpacity":1,"opacity":1},"encoding":{"x":{"field":"c","type":"ordinal","axis":null,"scale":{"range":[53.5,648.5]}},"y":{"field":"r","type":"ordinal","axis":null,"scale":{"range":[449.5,848.5]}},"color":{"field":"v","type":"quantitative","legend":null,"scale":{"domain":[0,255],"range":["#000000","#ffffff"]}},"stroke":{"field":"v","type":"quantitative","legend":null,"scale":{"domain":[0,255],"range":["#000000","#ffffff"]}}}},
{"encoding":{"x":{"field":"x","type":"quantitative","axis":null,"scale":{"domain":[0,40],"range":[45,641],"nice":false,"zero":false}},"y":{"field":"y","type":"quantitative","axis":null,"scale":{"domain":[0,20],"range":[408.5,8.5],"nice":false,"zero":false}}},
"layer":[
{"data":{"name":"tFrame"},"mark":{"type":"line","stroke":"#888888","strokeWidth":1}},
{"data":{"name":"tBeam"},"mark":{"type":"point","shape":"square","filled":true,"size":10,"opacity":1,"color":"#3cc4d4"}},
{"data":{"name":"tPath"},"mark":{"type":"line","stroke":"#ee2229","strokeWidth":3,"strokeDash":[15,7]},"encoding":{"detail":{"field":"k"}}},
{"data":{"name":"tCorrect"},"mark":{"type":"line","stroke":"#62bb46","strokeWidth":3,"strokeDash":[7,4.5]},"encoding":{"detail":{"field":"k"}}},
{"data":{"name":"tWrong"},"mark":{"type":"line","stroke":"#92278f","strokeWidth":3,"strokeDash":[9,3,2,3]},"encoding":{"detail":{"field":"k"}}},
{"data":{"name":"tRight"},"mark":{"type":"line","stroke":"#39b54a","strokeWidth":3,"strokeDash":[13,6,2,6]},"encoding":{"detail":{"field":"k"}}},
{"data":{"name":"tCross"},"mark":{"type":"line","stroke":"#92278f","strokeWidth":3},"encoding":{"detail":{"field":"k"}}},
{"data":{"name":"tGood"},"mark":{"type":"rect","fill":"white","stroke":"#333333","strokeWidth":1},"encoding":{"x2":{"field":"x2"},"y2":{"field":"y2"}}},
{"data":{"name":"tBad"},"mark":{"type":"rect","fill":"#5f5f61"},"encoding":{"x2":{"field":"x2"},"y2":{"field":"y2"}}},
{"data":{"name":"tLegend"},"mark":{"type":"text","align":"left","baseline":"middle","font":"Liberation Serif","fontSize":18.8,"fill":"#231f20"},"encoding":{"text":{"field":"t"}}},
{"data":{"name":"tAxis"},"mark":{"type":"text","align":"center","baseline":"middle","font":"Liberation Sans","fontSize":18,"fill":"#231f20"},"encoding":{"text":{"field":"t"}}},
{"data":{"name":"tTime"},"mark":{"type":"text","align":"center","baseline":"middle","font":"Liberation Sans","fontSize":19,"fill":"#231f20"},"encoding":{"text":{"field":"t"}}},
{"data":{"name":"tState"},"mark":{"type":"text","align":"center","baseline":"middle","angle":270,"font":"Liberation Sans","fontSize":18,"fill":"#231f20"},"encoding":{"text":{"field":"t"}}}
]},
{"encoding":{"x":{"field":"x","type":"quantitative","axis":null,"scale":{"domain":[0,40],"range":[53,649],"nice":false,"zero":false}},"y":{"field":"y","type":"quantitative","axis":null,"scale":{"domain":[0,20],"range":[849,449],"nice":false,"zero":false}}},
"layer":[
{"data":{"name":"bFrame"},"mark":{"type":"line","stroke":"#888888","strokeWidth":1,"order":false}},
{"data":{"name":"bBeam"},"mark":{"type":"point","shape":"square","filled":true,"size":10,"opacity":1,"color":"#3cc4d4"}},
{"data":{"name":"bWrong"},"mark":{"type":"line","stroke":"#92278f","strokeWidth":3,"strokeDash":[9,3,2,3]},"encoding":{"detail":{"field":"k"}}},
{"data":{"name":"bRight"},"mark":{"type":"line","stroke":"#39b54a","strokeWidth":3,"strokeDash":[13,6,2,6]},"encoding":{"detail":{"field":"k"}}},
{"data":{"name":"bCorrect"},"mark":{"type":"line","stroke":"#62bb46","strokeWidth":3,"strokeDash":[7,4.5]},"encoding":{"detail":{"field":"k"}}},
{"data":{"name":"bCorrectL"},"mark":{"type":"line","stroke":"#62bb46","strokeWidth":3,"strokeDash":[15,7]}},
{"data":{"name":"bPath"},"mark":{"type":"line","stroke":"#ee2229","strokeWidth":3,"strokeDash":[15,7]},"encoding":{"detail":{"field":"k"}}},
{"data":{"name":"bCross"},"mark":{"type":"line","stroke":"#39b54a","strokeWidth":3},"encoding":{"detail":{"field":"k"}}},
{"data":{"name":"bGood"},"mark":{"type":"rect","fill":"white","stroke":"#333333","strokeWidth":1},"encoding":{"x2":{"field":"x2"},"y2":{"field":"y2"}}},
{"data":{"name":"bBad"},"mark":{"type":"rect","fill":"#5f5f61"},"encoding":{"x2":{"field":"x2"},"y2":{"field":"y2"}}},
{"data":{"name":"bLegend"},"mark":{"type":"text","align":"left","baseline":"middle","font":"Liberation Serif","fontSize":18.8,"fill":"#231f20"},"encoding":{"text":{"field":"t"}}},
{"data":{"name":"bAxis"},"mark":{"type":"text","align":"center","baseline":"middle","font":"Liberation Sans","fontSize":18,"fill":"#231f20"},"encoding":{"text":{"field":"t"}}},
{"data":{"name":"bTime"},"mark":{"type":"text","align":"center","baseline":"middle","font":"Liberation Sans","fontSize":19,"fill":"#231f20"},"encoding":{"text":{"field":"t"}}},
{"data":{"name":"bState"},"mark":{"type":"text","align":"center","baseline":"middle","angle":270,"font":"Liberation Sans","fontSize":18,"fill":"#231f20"},"encoding":{"text":{"field":"t"}}}
]}
],
"resolve":{"scale":{"x":"independent","y":"independent","color":"independent","stroke":"independent"}}
}
